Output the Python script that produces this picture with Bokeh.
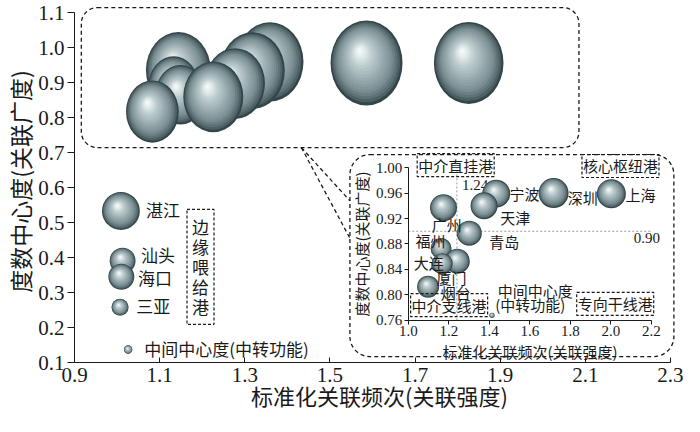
import numpy as np
from bokeh.plotting import figure
from bokeh.models import (ColumnDataSource, Range1d, LinearAxis, FixedTicker,
                          PrintfTickFormatter, BoxAnnotation)
from bokeh.core.properties import value
from bokeh.embed import file_html
from bokeh.resources import INLINE

# ---------------- data ----------------
core_ports = ["上海", "深圳", "宁波", "天津", "广州", "青岛", "福州", "大连", "厦门", "烟台"]
# enlarged view of the core ports in the main panel
core_x_main = [1.826, 1.586, 1.359, 1.318, 1.144, 1.277, 1.133, 1.149, 1.226, 1.083]
core_y_main = [0.956, 0.956, 0.959, 0.934, 0.935, 0.897, 0.890, 0.865, 0.859, 0.817]
# inset panel values
core_x = [2.002, 1.717, 1.434, 1.374, 1.174, 1.301, 1.162, 1.168, 1.242, 1.098]
core_y = [0.959, 0.960, 0.959, 0.940, 0.937, 0.897, 0.873, 0.849, 0.853, 0.813]
core_size = [29, 30, 28, 27, 27, 25, 21, 21, 25, 22]      # 中间中心度 (bubble size)

edge_ports = ["湛江", "汕头", "海口", "三亚"]
edge_x = [1.009, 1.013, 1.010, 1.007]
edge_y = [0.533, 0.391, 0.345, 0.258]
edge_size = [15.8, 10.8, 10.8, 7.1]

legend_size = 3.5
size_legend = "中间中心度(中转功能)"
edge_group_name = "边缘喂给港"
quadrant_names = ["中介直挂港", "核心枢纽港", "中介支线港", "专向干线港"]

x_ticks = [0.9, 1.1, 1.3, 1.5, 1.7, 1.9, 2.1, 2.3]
y_ticks = [0.1, 0.2, 0.3, 0.4, 0.5, 0.6, 0.7, 0.8, 0.9, 1.0, 1.1]
inset_x_ticks = [1.0, 1.2, 1.4, 1.6, 1.8, 2.0, 2.2]
inset_y_ticks = [0.76, 0.80, 0.84, 0.88, 0.92, 0.96, 1.00]
x_split = 1.24
y_split = 0.90

x_title = "标准化关联频次(关联强度)"
y_title = "度数中心度(关联广度)"

# ---------------- layout / style ----------------
CJK = "Noto Sans CJK SC"
SERIF = "Liberation Serif"
W, H = 684, 416
BL, BB = 73, 54
KX, KY = 426.4, 350.0                       # pixels per unit (main axes)
X_RANGE = (0.9, 0.9 + (W - BL) / KX)
Y_RANGE = (0.1, 0.1 + (H - BB) / KY)

# where the inset frame sits, in main-axis coordinates
IN_X0, IN_X1 = 1.684, 2.2554     # inset x 1.0 .. 2.2
IN_Y0, IN_Y1 = 0.2203, 0.6569    # inset y 0.76 .. 1.00
ax_ = (inset_x_ticks[-1] - inset_x_ticks[0]) / (IN_X1 - IN_X0)
ay_ = (inset_y_ticks[-1] - inset_y_ticks[0]) / (IN_Y1 - IN_Y0)
ix_range = Range1d(inset_x_ticks[0] + (X_RANGE[0] - IN_X0) * ax_,
                   inset_x_ticks[0] + (X_RANGE[1] - IN_X0) * ax_)
iy_range = Range1d(inset_y_ticks[0] + (Y_RANGE[0] - IN_Y0) * ay_,
                   inset_y_ticks[0] + (Y_RANGE[1] - IN_Y0) * ay_)
KX_IN = KX / ax_
KY_IN = KY / ay_

RAMP = [(0.00, (52, 70, 74)), (0.07, (84, 104, 108)), (0.22, (122, 142, 146)),
        (0.45, (156, 174, 177)), (0.68, (190, 205, 207)), (0.85, (228, 236, 237)),
        (1.00, (255, 255, 255))]


def ramp(t):
    for (t0, c0), (t1, c1) in zip(RAMP[:-1], RAMP[1:]):
        if t <= t1:
            f = (t - t0) / (t1 - t0)
            c = [int(round(a + (b - a) * f)) for a, b in zip(c0, c1)]
            return "#%02x%02x%02x" % tuple(c)
    return "#ffffff"


def sphere_source(xs, ys, ws, hs, kx, ky, n=18):
    order = sorted(range(len(xs)), key=lambda i: -ys[i])
    X, Y, WW, HH, C = [], [], [], [], []
    for i in order:
        for j in range(n):
            t = j / n
            X.append(xs[i] - 0.10 * ws[i] * t / kx)
            Y.append(ys[i] + 0.15 * hs[i] * t / ky)
            WW.append(ws[i] * (1 - t))
            HH.append(hs[i] * (1 - t))
            C.append(ramp(t))
    return ColumnDataSource(dict(x=X, y=Y, w=WW, h=HH, c=C))


p = figure(width=W, height=H,
           x_range=Range1d(*X_RANGE), y_range=Range1d(*Y_RANGE),
           output_backend="svg", toolbar_location=None,
           min_border_left=BL, min_border_right=0, min_border_top=0, min_border_bottom=BB)
p.extra_x_ranges = {"ix": ix_range}
p.extra_y_ranges = {"iy": iy_range}
p.outline_line_color = None
p.xgrid.visible = False
p.ygrid.visible = False
p.background_fill_color = "white"
p.border_fill_color = "white"

INK = "#1a1a1a"

xa = p.below[0]
xa.ticker = FixedTicker(ticks=x_ticks)
xa.formatter = PrintfTickFormatter(format="%.1f")
xa.bounds = (x_ticks[0], x_ticks[-1])
xa.major_tick_in = 5
xa.major_tick_out = 0
xa.major_label_standoff = 5
xa.major_label_text_font = SERIF
xa.major_label_text_font_size = "21px"
xa.major_label_text_color = INK
xa.axis_label = x_title
xa.axis_label_text_font = CJK
xa.axis_label_text_font_size = "22px"
xa.axis_label_text_font_style = "normal"
xa.axis_label_text_color = INK
xa.axis_label_standoff = -6
xa.axis_line_color = INK
xa.major_tick_line_color = INK

ya = p.left[0]
ya.ticker = FixedTicker(ticks=y_ticks)
ya.formatter = PrintfTickFormatter(format="%.1f")
ya.bounds = (y_ticks[0], y_ticks[-1])
ya.major_tick_in = 0
ya.major_tick_out = 7
ya.major_label_standoff = 3
ya.major_label_text_font = SERIF
ya.major_label_text_font_size = "21px"
ya.major_label_text_color = INK
ya.axis_label = y_title
ya.axis_label_text_font = CJK
ya.axis_label_text_font_size = "23px"
ya.axis_label_text_font_style = "normal"
ya.axis_label_text_color = INK
ya.axis_label_standoff = -2
ya.axis_line_color = INK
ya.major_tick_line_color = INK

DASH = "4 3"

# dashed frames
p.add_layout(BoxAnnotation(left=0.916, right=2.085, bottom=0.714, top=1.114,
                           fill_color=None, line_color=INK, line_alpha=1.0, line_dash=DASH,
                           line_width=1.3, border_radius=16))
p.add_layout(BoxAnnotation(left=1.547, right=2.308, bottom=0.117, top=0.694,
                           fill_color=None, line_color=INK, line_alpha=1.0, line_dash=DASH,
                           line_width=1.3, border_radius=20))
p.segment(x0=[1.433, 1.433], y0=[0.714, 0.714], x1=[1.547, 1.547], y1=[0.562, 0.455],
          line_color=INK, line_dash=DASH, line_width=1.3)

# ---- main panel bubbles ----
cw = [2.4 * s for s in core_size]
ch = [2.4 * 1.18 * s for s in core_size]
p.ellipse(x="x", y="y", width="w", height="h", width_units="screen", height_units="screen",
          fill_color="c", line_color=None,
          source=sphere_source(core_x_main, core_y_main, cw, ch, KX, KY))

ex = edge_x + [1.026]
ey = edge_y + [0.137]
ed = [2.4 * s for s in edge_size + [legend_size]]
p.ellipse(x="x", y="y", width="w", height="h", width_units="screen", height_units="screen",
          fill_color="c", line_color=None,
          source=sphere_source(ex, ey, ed, ed, KX, KY))

p.text(x=[1.068, 1.056, 1.049, 1.045], y=[0.538, 0.408, 0.342, 0.263], text=edge_ports,
       text_font=value(CJK), text_font_size="17px", text_align="left",
       text_baseline="middle", text_color=INK)
p.text(x=[1.064], y=[0.140], text=[size_legend],
       text_font=value(CJK), text_font_size="17px", text_align="left",
       text_baseline="middle", text_color=INK)
p.text(x=[1.196], y=[0.373], text=["\n".join(edge_group_name)],
       text_font=value(CJK), text_font_size="17px", text_align="center",
       text_baseline="middle", text_color=INK, text_line_height=0.8,
       border_line_color=INK, border_line_dash="3 2", border_line_width=1.2, padding=5)

# ---- inset ----
ixa = LinearAxis(x_range_name="ix", y_range_name="iy", fixed_location=inset_y_ticks[0],
                 bounds=(inset_x_ticks[0], inset_x_ticks[-1]),
                 ticker=FixedTicker(ticks=inset_x_ticks),
                 formatter=PrintfTickFormatter(format="%.1f"))
iya = LinearAxis(x_range_name="ix", y_range_name="iy", fixed_location=inset_x_ticks[0],
                 bounds=(inset_y_ticks[0], inset_y_ticks[-1]),
                 ticker=FixedTicker(ticks=inset_y_ticks),
                 formatter=PrintfTickFormatter(format="%.2f"))
for a_, lab in ((ixa, x_title), (iya, y_title)):
    a_.major_tick_in = 0
    a_.major_tick_out = 4
    a_.major_label_standoff = 2
    a_.major_label_text_font = SERIF
    a_.major_label_text_font_size = "15px"
    a_.major_label_text_color = INK
    a_.axis_label = lab
    a_.axis_label_text_font = CJK
    a_.axis_label_text_font_size = "15px"
    a_.axis_label_text_font_style = "normal"
    a_.axis_label_text_color = INK
    a_.axis_label_standoff = 1
    a_.axis_line_color = INK
    a_.major_tick_line_color = INK
p.add_layout(ixa, "below")
p.add_layout(iya, "left")

p.segment(x0=[x_split, inset_x_ticks[0]], y0=[inset_y_ticks[0], y_split],
          x1=[x_split, inset_x_ticks[-1]], y1=[inset_y_ticks[-1], y_split],
          x_range_name="ix", y_range_name="iy",
          line_color="#9a9a9a", line_dash="2 2", line_width=1)
p.text(x=[1.2655], y=[0.973], text=["%.2f" % x_split], x_range_name="ix", y_range_name="iy",
       text_font=value(SERIF), text_font_size="15px", text_align="left",
       text_baseline="middle", text_color=INK)
p.text(x=[2.242], y=[0.889], text=["%.2f" % y_split], x_range_name="ix", y_range_name="iy",
       text_font=value(SERIF), text_font_size="15px", text_align="right",
       text_baseline="middle", text_color=INK)

idm = [1.0 * s for s in core_size]
p.ellipse(x="x", y="y", width="w", height="h", width_units="screen", height_units="screen",
          fill_color="c", line_color=None, x_range_name="ix", y_range_name="iy",
          source=sphere_source(core_x, core_y, idm, idm, KX_IN, KY_IN, n=14))
p.ellipse(x="x", y="y", width="w", height="h", width_units="screen", height_units="screen",
          fill_color="c", line_color=None, x_range_name="ix", y_range_name="iy",
          source=sphere_source([1.413], [0.768], [1.5 * legend_size], [1.5 * legend_size],
                               KX_IN, KY_IN, n=6))

core_lx = [2.146, 1.861, 1.573, 1.528, 1.19, 1.474, 1.110, 1.101, 1.213, 1.234]
core_ly = [0.957, 0.9525, 0.960, 0.922, 0.9107, 0.8843, 0.8854, 0.8513, 0.8278, 0.8045]
p.text(x=core_lx, y=core_ly, text=core_ports, x_range_name="ix", y_range_name="iy",
       text_font=value(CJK), text_font_size="15px", text_align="center",
       text_baseline="middle", text_color=INK)
p.text(x=[1.626, 1.602], y=[0.8077, 0.7845],
       text=[size_legend[:5], size_legend[5:]], x_range_name="ix", y_range_name="iy",
       text_font=value(CJK), text_font_size="15px", text_align="center",
       text_baseline="middle", text_color=INK)
p.text(x=[1.234, 2.047, 1.2016, 2.021], y=[1.004, 1.0025, 0.784, 0.786], text=quadrant_names,
       x_range_name="ix", y_range_name="iy",
       text_font=value(CJK), text_font_size="15px", text_align="center",
       text_baseline="middle", text_color=INK,
       border_line_color=INK, border_line_dash="3 2", border_line_width=1.2, padding=1)

open("out.html", "w").write(file_html(p, INLINE))
